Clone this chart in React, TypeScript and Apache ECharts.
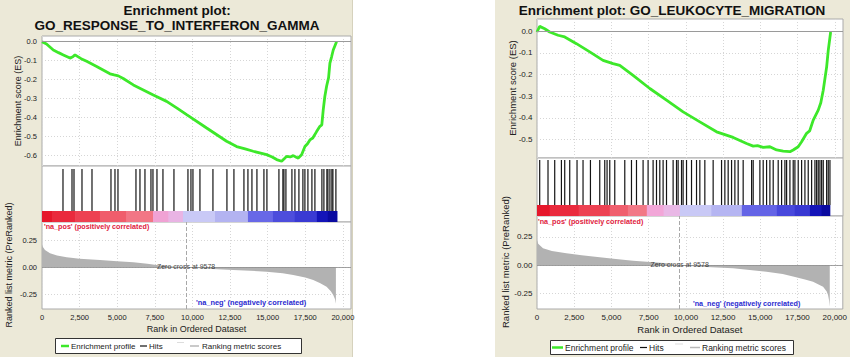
import React, { useEffect, useRef } from "react";
import * as echarts from "echarts";

// ---------------- DATA ----------------
const xTickValues = [0, 2500, 5000, 7500, 10000, 12500, 15000, 17500, 20000];
const esTicksLeft = [-0.6, -0.5, -0.4, -0.3, -0.2, -0.1, 0];
const esTicksRight = [-0.5, -0.4, -0.3, -0.2, -0.1, 0];
const rankTicks = [-0.25, 0, 0.25];
const zeroCross = 9578;

const leftTitle = ["Enrichment plot:", "GO_RESPONSE_TO_INTERFERON_GAMMA"];
const rightTitle = "Enrichment plot: GO_LEUKOCYTE_MIGRATION";
const esAxisName = "Enrichment score (ES)";
const rankAxisName = "Ranked list metric (PreRanked)";
const xAxisName = "Rank in Ordered Dataset";
const posLabel = "'na_pos' (positively correlated)";
const negLabel = "'na_neg' (negatively correlated)";
const legendNames = ["Enrichment profile", "Hits", "Ranking metric scores"];

const leftES: [number, number][] = [
  [0, 0], [300, -0.012], [752, -0.044], [1100, -0.058], [1418, -0.07], [1860, -0.087],
  [2050, -0.08], [2193, -0.07], [2600, -0.09], [2968, -0.104], [3633, -0.131],
  [4519, -0.17], [4800, -0.176], [5072, -0.181], [5400, -0.195], [6069, -0.229],
  [6800, -0.258], [7398, -0.282], [8284, -0.316], [9000, -0.353], [9614, -0.386],
  [10944, -0.457], [12271, -0.527], [12938, -0.555], [13500, -0.567], [14040, -0.58],
  [14930, -0.598], [15300, -0.61], [15596, -0.624], [15928, -0.633], [16100, -0.62],
  [16260, -0.607], [16500, -0.61], [16703, -0.603], [16900, -0.612], [17035, -0.616],
  [17256, -0.598], [17477, -0.555], [17650, -0.54], [17809, -0.52], [18000, -0.51],
  [18253, -0.476], [18474, -0.448], [18600, -0.44], [18696, -0.36], [18800, -0.29],
  [18918, -0.236], [19050, -0.19], [19138, -0.113], [19250, -0.08], [19360, -0.044],
  [19480, -0.02], [19580, 0.0],
];
const leftHits = [
  1395, 1994, 2127, 2658, 3323, 4585, 4851, 5050, 6246, 6512, 6844, 7243, 7376, 7642,
  8040, 8771, 9702, 9901, 10034, 10499, 11363, 12293, 12758, 13423, 13689, 13955, 14287,
  14752, 14951, 15749, 16014, 16081, 16214, 16613, 16812, 17078, 17343, 17476, 17676,
  17942, 18141, 18606, 18739, 18938, 19005, 19138, 19270, 19337, 19536,
];
const leftRanked: [number, number][] = [
  [0, 0.21], [60, 0.19], [199, 0.162], [532, 0.131], [1000, 0.11], [1640, 0.094],
  [2500, 0.08], [3854, 0.068], [5000, 0.057], [6069, 0.047], [7000, 0.033], [7620, 0.022],
  [8500, 0.01], [9578, 0], [11000, -0.013], [12700, -0.025], [14930, -0.041], [16000, -0.055],
  [16700, -0.072], [17500, -0.095], [18030, -0.119], [18500, -0.15], [18917, -0.181],
  [19200, -0.225], [19360, -0.259], [19480, -0.3], [19536, -0.34],
];
const leftBands: [number, number][] = [
  [0, 660], [660, 2200], [2200, 3850], [3850, 5600], [5600, 7380], [7380, 8400],
  [8400, 9370], [9370, 11500], [11500, 13690], [13690, 15350], [15350, 16800],
  [16800, 18270], [18270, 19000], [19000, 19600],
];
const leftBandColors = [
  "#e6172b", "#ea2a3d", "#ed4152", "#f05d6c", "#f27685", "#f0a2d4", "#e9b4e4",
  "#c9c9f6", "#b3b3f1", "#6868e7", "#4d4ddc", "#3a3ad3", "#1414b8", "#0a0aa0",
];

const rightES: [number, number][] = [
  [0, -0.003], [181, 0.023], [517, 0.012], [853, -0.003], [1413, -0.018], [1861, -0.026],
  [2647, -0.057], [3540, -0.095], [4434, -0.134], [5106, -0.149], [5556, -0.157],
  [6450, -0.203], [7571, -0.264], [8693, -0.318], [9808, -0.372], [10930, -0.418],
  [12052, -0.464], [13167, -0.49], [14067, -0.518], [14511, -0.53], [14800, -0.528],
  [15183, -0.536], [15633, -0.533], [16083, -0.548], [16527, -0.553], [16977, -0.556],
  [17198, -0.548], [17534, -0.533], [17762, -0.51], [18098, -0.471], [18300, -0.46],
  [18542, -0.41], [18878, -0.364], [19050, -0.33], [19214, -0.272], [19442, -0.164],
  [19550, -0.088], [19711, -0.003],
];
const rightHits = [
  181, 739, 1189, 1639, 1861, 2197, 2687, 3090, 3587, 4212, 4548, 4703, 4884, 5220, 5892,
  6342, 6678, 7121, 7457, 7793, 8021, 8243, 8465, 8693, 9137, 9365, 9473, 9701, 9808,
  10037, 10372, 10708, 10930, 11266, 11824, 12388, 12610, 12832, 13060, 13282, 13503,
  13839, 14403, 14511, 14961, 15183, 15411, 15633, 15855, 16190, 16419, 16641, 16755,
  16977, 17198, 17312, 17534, 17762, 17984, 18206, 18434, 18656, 18770, 18878, 18992,
  19106, 19214, 19442, 19550, 19664,
];
const rightRanked: [number, number][] = [
  [0, 0.223], [80, 0.19], [404, 0.15], [1000, 0.125], [1975, 0.106], [3000, 0.088],
  [4212, 0.071], [5300, 0.056], [6450, 0.041], [7600, 0.029], [8693, 0.018], [9578, 0],
  [11000, -0.012], [13167, -0.027], [15411, -0.057], [16500, -0.077], [17198, -0.1],
  [18000, -0.125], [18542, -0.145], [19214, -0.189], [19450, -0.23], [19550, -0.262],
  [19620, -0.31], [19664, -0.366],
];
const rightBands: [number, number][] = [
  [0, 850], [850, 2800], [2800, 4880], [4880, 6100], [6100, 7370], [7370, 8500],
  [8500, 9590], [9590, 11700], [11700, 13750], [13750, 16100], [16100, 17300],
  [17300, 18320], [18320, 19100], [19100, 19650],
];
const rightBandColors = [
  "#e6172b", "#ea2a3d", "#ed4152", "#f05f6e", "#f27886", "#f2a6d8", "#e9b8e6",
  "#c9c9f6", "#b5b5f2", "#6464e6", "#4848dc", "#3838d2", "#1414b8", "#0a0aa0",
];

// ---------------- STYLE / LAYOUT ----------------
const FF = "'Liberation Sans', Arial, Helvetica, sans-serif";
const GREEN = "#3de82a";
const BEIGE = "#ece9d8";
const XMAX = 20540;
const BAR_H = 11;
const LABEL = "#222";

const panels = [
  {
    left: 42, width: 309, esTop: 36, esH: 130, hitsTop: 166, hitsH: 56, rkTop: 222, rkH: 87,
    esMin: -0.658, esMax: 0.03, rkMin: -0.39, rkMax: 0.423, hitPad: 3, tickFont: 7.5, nameFont: 8.5,
    es: leftES, hits: leftHits, ranked: leftRanked, bands: leftBands, bandColors: leftBandColors,
    esTicks: esTicksLeft, labelMargin: 5,
  },
  {
    left: 537, width: 306, esTop: 19, esH: 139, hitsTop: 158, hitsH: 58, rkTop: 216, rkH: 93,
    esMin: -0.585, esMax: 0.057, rkMin: -0.386, rkMax: 0.435, hitPad: 2, tickFont: 8, nameFont: 9,
    es: rightES, hits: rightHits, ranked: rightRanked, bands: rightBands, bandColors: rightBandColors,
    esTicks: esTicksRight, labelMargin: 4.5,
  },
];

function buildOption() {
  const grid: any[] = [];
  const xAxis: any[] = [];
  const yAxis: any[] = [];
  const series: any[] = [];
  const gridBorder = "#aaaaaa";
  const split = { show: true, lineStyle: { color: "#d6d6d6", type: [1, 2], width: 1 } };

  panels.forEach((P, i) => {
    const b = i * 3;
    const rows = [
      [P.esTop, P.esH],
      [P.hitsTop, P.hitsH],
      [P.rkTop, P.rkH],
    ];
    rows.forEach(([top, h]) => {
      grid.push({
        left: P.left, top, width: P.width, height: h, show: true,
        backgroundColor: "#ffffff", borderColor: gridBorder, borderWidth: 1,
      });
    });
    for (let k = 0; k < 3; k++) {
      xAxis.push({
        type: "value", gridIndex: b + k, min: 0, max: XMAX,
        axisLine: { show: false },
        axisTick: { show: false, customValues: xTickValues },
        axisLabel: k === 2
          ? {
              show: true, customValues: xTickValues, fontSize: P.tickFont, color: LABEL,
              fontFamily: FF, margin: 4,
              formatter: (v: number) => v.toLocaleString("en-US"),
            }
          : { show: false },
        splitLine: k === 1 ? { show: false } : split,
        name: k === 2 ? xAxisName : "",
        nameLocation: "middle",
        nameGap: 15,
        nameTextStyle: { fontSize: P.nameFont + 0.5, color: LABEL, fontFamily: FF },
      });
    }
    yAxis.push({
      type: "value", gridIndex: b, min: P.esMin, max: P.esMax,
      axisLine: { show: false },
      axisTick: { show: false, customValues: P.esTicks },
      axisLabel: {
        customValues: P.esTicks, fontSize: P.tickFont, color: LABEL, fontFamily: FF,
        margin: P.labelMargin, formatter: (v: number) => v.toFixed(1),
      },
      splitLine: split,
    });
    yAxis.push({
      type: "value", gridIndex: b + 1, min: 0, max: 1,
      axisLine: { show: false }, axisTick: { show: false }, axisLabel: { show: false },
      splitLine: { show: false },
    });
    yAxis.push({
      type: "value", gridIndex: b + 2, min: P.rkMin, max: P.rkMax,
      axisLine: { show: false },
      axisTick: { show: false, customValues: rankTicks },
      axisLabel: {
        customValues: rankTicks, fontSize: P.tickFont, color: LABEL, fontFamily: FF,
        margin: P.labelMargin, formatter: (v: number) => v.toFixed(2),
      },
      splitLine: split,
    });

    series.push({
      name: legendNames[0], type: "line", xAxisIndex: b, yAxisIndex: b, data: P.es,
      symbol: "none", showSymbol: false, z: 4,
      lineStyle: { color: GREEN, width: 2.8 }, itemStyle: { color: GREEN },
      markLine: {
        silent: true, symbol: "none", label: { show: false },
        lineStyle: { color: "#9a9a9a", type: "solid", width: 1 },
        data: [{ yAxis: 0 }],
      },
    });
    const hitPad = P.hitPad;
    series.push({
      name: legendNames[1], type: "custom", xAxisIndex: b + 1, yAxisIndex: b + 1,
      data: P.hits.map((r) => [r, 0]), encode: { x: 0, y: 1 }, z: 3,
      renderItem: (params: any, api: any) => {
        const cs = params.coordSys;
        const x = api.coord([api.value(0), 0])[0];
        return {
          type: "line",
          shape: { x1: x, y1: cs.y + hitPad, x2: x, y2: cs.y + cs.height - BAR_H },
          style: { stroke: "#141414", lineWidth: 1.2 },
        };
      },
    });
    series.push({
      name: "colour bar", type: "custom", xAxisIndex: b + 1, yAxisIndex: b + 1,
      data: P.bands.map((band, j) => ({ value: [band[0], band[1]], itemStyle: { color: P.bandColors[j] } })),
      encode: { x: [0, 1] }, z: 2,
      renderItem: (params: any, api: any) => {
        const cs = params.coordSys;
        const x0 = api.coord([api.value(0), 0])[0];
        const x1 = api.coord([api.value(1), 0])[0];
        return {
          type: "rect",
          shape: { x: x0, y: cs.y + cs.height - BAR_H, width: x1 - x0 + 0.6, height: BAR_H },
          style: { fill: api.visual("color") },
        };
      },
    });
    series.push({
      name: legendNames[2], type: "line", xAxisIndex: b + 2, yAxisIndex: b + 2, data: P.ranked,
      symbol: "none", showSymbol: false, z: 2,
      lineStyle: { width: 0, color: "#b2b2b2" },
      areaStyle: { color: "#b2b2b2", opacity: 1 },
      markLine: {
        silent: true, symbol: "none", label: { show: false },
        data: [
          { xAxis: zeroCross, lineStyle: { color: "#a8a8a8", type: "dashed", width: 1 } },
          { yAxis: 0, lineStyle: { color: "#8c8c8c", type: "solid", width: 0.8 } },
        ],
      },
    });
    series.push({
      name: "zero cross", type: "scatter", xAxisIndex: b + 2, yAxisIndex: b + 2,
      data: [[zeroCross, 0]], symbolSize: 1, itemStyle: { color: "transparent" }, z: 5,
      label: {
        show: true, position: "inside", offset: [0, -1],
        formatter: "Zero cross at " + zeroCross, fontSize: 7, color: "#111", fontFamily: FF,
      },
    });
  });

  const txt = (x: number, y: number, text: string, o: any = {}, rotation = 0) => ({
    type: "text", x, y, rotation, z: 100, silent: true,
    style: {
      text, fontFamily: FF, fontSize: o.fontSize ?? 8, fontWeight: o.fontWeight ?? "normal",
      fill: o.fill ?? LABEL, align: o.align ?? "left", verticalAlign: "middle",
    },
  });
  const seg = (x1: number, x2: number, y: number, stroke: string, w: number) => ({
    type: "line", z: 100, silent: true, shape: { x1, y1: y, x2, y2: y }, style: { stroke, lineWidth: w },
  });

  const graphic: any[] = [
    { type: "rect", z: -10, silent: true, shape: { x: 0, y: 0, width: 353, height: 357 }, style: { fill: BEIGE } },
    { type: "rect", z: -10, silent: true, shape: { x: 495, y: 0, width: 355, height: 357 }, style: { fill: BEIGE } },
    { type: "line", z: -9, silent: true, shape: { x1: 352.5, y1: 0, x2: 352.5, y2: 357 }, style: { stroke: "#d6d2bd", lineWidth: 1 } },
    // titles
    txt(177, 10, leftTitle[0], { fontSize: 13.5, fontWeight: "bold", fill: "#111", align: "center" }),
    txt(177, 25, leftTitle[1], { fontSize: 13.5, fontWeight: "bold", fill: "#111", align: "center" }),
    txt(672, 10, rightTitle, { fontSize: 13.5, fontWeight: "bold", fill: "#111", align: "center" }),
    // y axis names
    txt(18, 101, esAxisName, { fontSize: 9, align: "center" }, Math.PI / 2),
    txt(9, 265, rankAxisName, { fontSize: 9, align: "center" }, Math.PI / 2),
    txt(512, 88, esAxisName, { fontSize: 9.5, align: "center" }, Math.PI / 2),
    txt(505, 262, rankAxisName, { fontSize: 9.5, align: "center" }, Math.PI / 2),
    // pos/neg labels
    txt(44, 226.5, posLabel, { fontSize: 7.2, fontWeight: "bold", fill: "#e0203c" }),
    txt(196, 302, negLabel, { fontSize: 7.4, fontWeight: "bold", fill: "#2a2ad0" }),
    txt(538, 221, posLabel, { fontSize: 7.2, fontWeight: "bold", fill: "#e0203c" }),
    txt(693, 303.5, negLabel, { fontSize: 7.2, fontWeight: "bold", fill: "#2a2ad0" }),
    // left legend
    { type: "rect", z: 99, silent: true, shape: { x: 55.5, y: 338.5, width: 246, height: 15 }, style: { fill: "#fff", stroke: "#333", lineWidth: 1 } },
    seg(61, 69, 346, GREEN, 2.5),
    txt(71, 346, legendNames[0], { fontSize: 8, fill: "#222" }),
    seg(140, 147, 346, "#111", 1.2),
    txt(149, 346, legendNames[1], { fontSize: 8, fill: "#222" }),
    seg(177, 184, 342.5, "#dddddd", 1),
    seg(190, 199, 346, "#b8b8b8", 1.5),
    txt(202, 346, legendNames[2], { fontSize: 8, fill: "#222" }),
    // right legend
    { type: "rect", z: 99, silent: true, shape: { x: 550.5, y: 340.5, width: 243, height: 14 }, style: { fill: "#fff", stroke: "#333", lineWidth: 1 } },
    seg(552, 563, 347.5, GREEN, 2.5),
    txt(565, 347.5, legendNames[0], { fontSize: 8.5, fill: "#222" }),
    seg(640, 647, 347.5, "#111", 1.2),
    txt(649, 347.5, legendNames[1], { fontSize: 8.5, fill: "#222" }),
    seg(675, 683, 344, "#dddddd", 1),
    seg(690, 700, 347.5, "#b8b8b8", 1.5),
    txt(702, 347.5, legendNames[2], { fontSize: 8.5, fill: "#222" }),
  ];

  return {
    animation: false,
    backgroundColor: "#ffffff",
    textStyle: { fontFamily: FF },
    grid, xAxis, yAxis, series, graphic,
  };
}

export default function App() {
  const ref = useRef<HTMLDivElement>(null);
  useEffect(() => {
    if (!ref.current) return;
    const chart = echarts.init(ref.current, null, { renderer: "svg" });
    chart.setOption(buildOption() as any);
    return () => chart.dispose();
  }, []);
  return (
    <div
      ref={ref}
      style={{ position: "fixed", left: 0, top: 0, width: 850, height: 357, background: "#fff" }}
    />
  );
}
